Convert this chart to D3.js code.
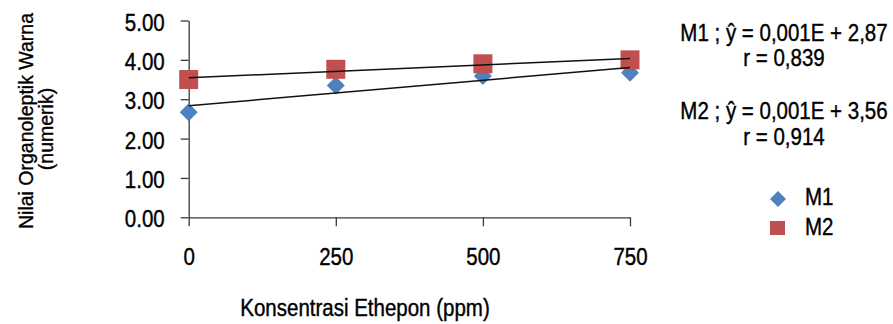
<!DOCTYPE html>
<html>
<head>
<meta charset="utf-8">
<script src="https://cdn.jsdelivr.net/npm/d3@7"></script>
<style>
  body { margin: 0; background: #fff; }
  text { font-family: "Liberation Sans", Arial, sans-serif; fill: #000; stroke: #000; stroke-width: 0.35px; }
</style>
</head>
<body>
<div id="svg"></div>
<script>
// data
var conc = [0, 250, 500, 750];
var m1 = [2.67, 3.35, 3.59, 3.67];
var m2 = [3.50, 3.76, 3.90, 4.00];
var yTicks = [0, 1, 2, 3, 4, 5];
var seriesNames = ["M1", "M2"];
var eqLines = [
    ["M1 ; \u0177 = 0,001E + 2,87", "r = 0,839"],
    ["M2 ; \u0177 = 0,001E + 3,56", "r = 0,914"]
];

var width = 893,
    height = 324;

var blue = "#4f81bd",
    red = "#c0504d",
    sy = 1.15; // the picture is a bit stretched vertically

var svg = d3.select("#svg").append("svg")
    .attr("width", width)
    .attr("height", height);

var x = d3.scaleLinear().domain([0, 750]).range([188.7, 630]);
var y = d3.scaleLinear().domain([0, 5]).range([217.3, 20.5]);

// axes
var yAxis = svg.append("g")
    .attr("transform", "translate(" + x(0) + ",0)")
    .call(d3.axisLeft(y).tickValues(yTicks).tickSize(8).tickSizeOuter(0)
        .tickFormat(d3.format(".2f")));
yAxis.selectAll("text")
    .attr("x", -24)
    .attr("dy", 9.5 / sy)
    .attr("transform", "scale(1," + sy + ")")
    .style("font-size", "20.5px")
    .attr("fill", "#000");

var xAxis = svg.append("g")
    .attr("transform", "translate(0," + y(0) + ")")
    .call(d3.axisBottom(x).tickValues(conc).tickSize(9).tickSizeOuter(0));
xAxis.selectAll("text")
    .attr("y", 47.7 / sy)
    .attr("dy", 0)
    .attr("transform", "scale(1," + sy + ")")
    .style("font-size", "20.5px")
    .attr("fill", "#000");

svg.selectAll(".domain, .tick line")
    .attr("stroke", "#3a3a3a")
    .attr("stroke-width", 1.3);

// markers
function diamond(cx, cy, r) {
    return "M" + cx + "," + (cy - r) + "L" + (cx + r) + "," + cy +
        "L" + cx + "," + (cy + r) + "L" + (cx - r) + "," + cy + "Z";
}

svg.append("g")
    .selectAll("path")
    .data(conc)
    .enter()
    .append("path")
    .attr("d", function (d, i) { return diamond(x(d), y(m1[i]), 9); })
    .attr("fill", blue);

svg.append("g")
    .selectAll("rect")
    .data(conc)
    .enter()
    .append("rect")
    .attr("x", function (d) { return x(d) - 9.5; })
    .attr("y", function (d, i) { return y(m2[i]) - 9.5; })
    .attr("width", 19)
    .attr("height", 19)
    .attr("fill", red);

// linear trend lines
function fit(vals) {
    var mx = d3.mean(conc), my = d3.mean(vals);
    var num = 0, den = 0;
    for (var i = 0; i < conc.length; i++) {
        num += (conc[i] - mx) * (vals[i] - my);
        den += (conc[i] - mx) * (conc[i] - mx);
    }
    var b = num / den;
    return { a: my - b * mx, b: b };
}

[m1, m2].forEach(function (vals) {
    var f = fit(vals);
    svg.append("line")
        .attr("x1", x(0))
        .attr("y1", y(f.a))
        .attr("x2", x(750))
        .attr("y2", y(f.a + f.b * 750))
        .attr("stroke", "#111")
        .attr("stroke-width", 1.5);
});

// stretched text helper
function label(px, py, txt, size, anchor) {
    return svg.append("text")
        .attr("transform", "translate(" + px + "," + py + ") scale(1," + sy + ")")
        .attr("text-anchor", anchor || "start")
        .style("font-size", size + "px")
        .text(txt);
}

// axis titles
label(365, 316, "Konsentrasi Ethepon (ppm)", 20.5, "middle");

svg.append("text")
    .attr("transform", "translate(33,121) rotate(-90)")
    .attr("text-anchor", "middle")
    .style("font-size", "19.5px")
    .text("Nilai Organoleptik Warna");
svg.append("text")
    .attr("transform", "translate(53,129) rotate(-90)")
    .attr("text-anchor", "middle")
    .style("font-size", "19.5px")
    .text("(numerik)");

// regression equations
var eqY = [[41, 66], [119, 145]];
eqLines.forEach(function (lines, i) {
    label(784, eqY[i][0], lines[0], 20.5, "middle");
    label(784, eqY[i][1], lines[1], 20.5, "middle");
});

// legend
svg.append("path")
    .attr("d", diamond(778, 199, 8))
    .attr("fill", blue);
svg.append("rect")
    .attr("x", 770)
    .attr("y", 221)
    .attr("width", 15)
    .attr("height", 14)
    .attr("fill", red);
label(805, 205, seriesNames[0], 20.5);
label(805, 235, seriesNames[1], 20.5);
</script>
</body>
</html>
